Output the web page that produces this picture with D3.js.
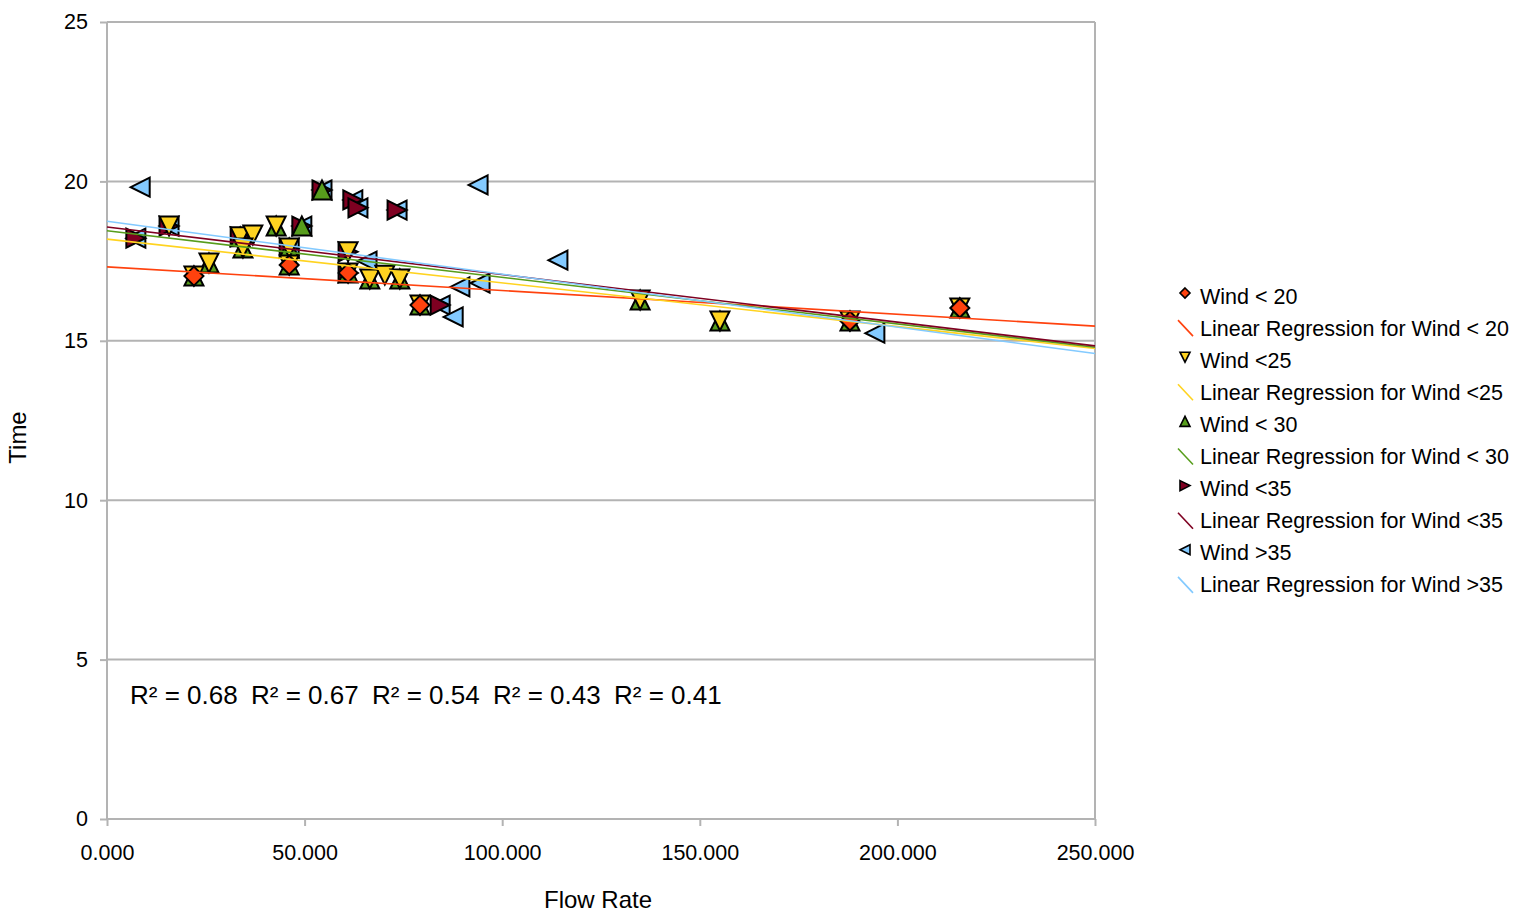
<!DOCTYPE html>
<html>
<head>
<meta charset="utf-8">
<script src="https://cdn.jsdelivr.net/npm/d3@7"></script>
<style>
  body { margin: 0; background: #fff; }
  svg text { font-family: "Liberation Sans", Arial, sans-serif; fill: #000; }
</style>
</head>
<body>
<svg id="chart" width="1519" height="922"></svg>
<script>
/********** Data **********/
var flowTicks = [0, 50, 100, 150, 200, 250];
var timeTicks = [0, 5, 10, 15, 20, 25];

var seriesNames = ["Wind < 20", "Wind <25", "Wind < 30", "Wind <35", "Wind >35"];
var seriesColors = ["#ff420e", "#ffd320", "#579d1c", "#7e0021", "#83caff"];
var seriesShapes = ["diamond", "down", "up", "right", "left"];

// [flow rate, time]
var wind20 = [[22.0,17.03],[46.1,17.38],[61.0,17.13],[79.2,16.12],[188.0,15.62],[215.8,16.03]];
var wind25 = [[15.7,18.6],[22.0,17.03],[25.8,17.44],[33.7,18.26],[36.9,18.32],[34.4,17.91],[42.8,18.6],
              [46.1,17.91],[46.1,17.38],[61.0,17.79],[61.0,17.13],[66.5,16.94],[70.3,17.06],[74.1,16.94],
              [79.2,16.12],[134.9,16.28],[155.1,15.62],[188.0,15.62],[215.8,16.03]];
var wind30 = [[22.0,17.03],[25.8,17.44],[33.7,18.26],[34.4,17.91],[42.8,18.6],[46.1,17.91],[46.1,17.38],
              [49.3,18.6],[54.4,19.73],[61.0,17.13],[66.5,16.94],[74.1,16.94],[79.2,16.12],[134.9,16.28],
              [155.1,15.62],[188.0,15.62],[215.8,16.03]];
var wind35 = [[7.3,18.22],[15.7,18.6],[33.7,18.26],[46.1,17.91],[49.3,18.6],[54.4,19.73],[61.0,17.79],
              [61.0,17.13],[62.2,19.42],[63.5,19.17],[73.4,19.1],[84.3,16.12]];
var windOver35 = [[8.4,19.82],[7.3,18.22],[15.7,18.6],[46.1,17.91],[49.3,18.6],[54.4,19.73],[62.2,19.42],
              [63.5,19.17],[65.8,17.5],[73.4,19.1],[84.3,16.12],[87.6,15.75],[89.3,16.69],[93.9,19.89],
              [94.4,16.81],[114.1,17.53],[194.3,15.24]];
var seriesData = [wind20, wind25, wind30, wind35, windOver35];

// regression line: time at flow 0 and at flow 250
var regStart = [17.32, 18.19, 18.45, 18.57, 18.75];
var regEnd = [15.46, 14.76, 14.80, 14.84, 14.60];

var r2Labels = ["R² = 0.68", "R² = 0.67", "R² = 0.54", "R² = 0.43", "R² = 0.41"];

/********** Chart **********/
var svg = d3.select("#chart"),
    margin = {top: 22, left: 107, right: 424, bottom: 103},
    width = +svg.attr("width") - margin.left - margin.right,
    height = +svg.attr("height") - margin.top - margin.bottom;

var x = d3.scaleLinear().domain([0, 250]).range([0, width]);
var y = d3.scaleLinear().domain([0, 25]).range([height, 0]);

var g = svg.append("g").attr("transform", "translate(" + margin.left + "," + margin.top + ")");
var grey = "#b3b3b3";

// grid
g.selectAll(".grid").data(timeTicks).enter().append("line")
    .attr("x1", 0).attr("x2", width)
    .attr("y1", function(d) { return y(d); }).attr("y2", function(d) { return y(d); })
    .attr("stroke", grey).attr("stroke-width", 2);

g.append("line").attr("x1", 0).attr("x2", 0).attr("y1", 0).attr("y2", height)
    .attr("stroke", grey).attr("stroke-width", 2);
g.append("line").attr("x1", width).attr("x2", width).attr("y1", 0).attr("y2", height)
    .attr("stroke", grey).attr("stroke-width", 2);

// axes
var yAxis = g.append("g").call(d3.axisLeft(y).tickValues(timeTicks).tickSize(7).tickPadding(12));
var xAxis = g.append("g").attr("transform", "translate(0," + height + ")")
    .call(d3.axisBottom(x).tickValues(flowTicks).tickSize(7).tickPadding(19).tickFormat(d3.format(".3f")));
[yAxis, xAxis].forEach(function(a) {
    a.select(".domain").remove();
    a.selectAll(".tick line").attr("stroke", grey).attr("stroke-width", 2);
    a.selectAll("text").style("font-size", "21.5px").attr("fill", "#000");
});

svg.append("text").attr("x", 598).attr("y", 908)
    .attr("text-anchor", "middle").style("font-size", "24px").text("Flow Rate");
svg.append("text").attr("transform", "translate(26," + (margin.top + height / 2 + 17) + ") rotate(-90)")
    .attr("text-anchor", "middle").style("font-size", "24px").text("Time");

// marker shapes inside an s x s box
function markerPath(shape, s) {
    var h = s / 2;
    if (shape == "diamond") return "M0," + -h + "L" + h + ",0L0," + h + "L" + -h + ",0Z";
    if (shape == "down") return "M" + -h + "," + -h + "L" + h + "," + -h + "L0," + h + "Z";
    if (shape == "up") return "M" + -h + "," + h + "L" + h + "," + h + "L0," + -h + "Z";
    if (shape == "right") return "M" + -h + "," + -h + "L" + h + ",0L" + -h + "," + h + "Z";
    return "M" + h + "," + -h + "L" + -h + ",0L" + h + "," + h + "Z";
}

// markers, last series at the bottom
for (var i = seriesData.length - 1; i >= 0; i--) {
    g.append("g").selectAll("path").data(seriesData[i]).enter().append("path")
        .attr("d", markerPath(seriesShapes[i], 19))
        .attr("transform", function(d) { return "translate(" + x(d[0]) + "," + y(d[1]) + ")"; })
        .attr("fill", seriesColors[i])
        .attr("stroke", "#000").attr("stroke-width", 2).attr("stroke-linejoin", "miter");
}

// regression lines
seriesNames.forEach(function(name, i) {
    g.append("line")
        .attr("x1", x(0)).attr("y1", y(regStart[i]))
        .attr("x2", x(250)).attr("y2", y(regEnd[i]))
        .attr("stroke", seriesColors[i]).attr("stroke-width", 1.6);
});

// R² labels
g.selectAll(".r2").data(r2Labels).enter().append("text")
    .attr("x", function(d, i) { return 23 + i * 121; })
    .attr("y", y(3.6))
    .style("font-size", "26px")
    .text(function(d) { return d; });

/********** Legend **********/
var legend = svg.append("g").attr("transform", "translate(1185,296)");
seriesNames.forEach(function(name, i) {
    var row = legend.append("g").attr("transform", "translate(0," + (i * 2 * 32.1) + ")");
    row.append("path").attr("d", markerPath(seriesShapes[i], 10))
        .attr("transform", "translate(0,-3)")
        .attr("fill", seriesColors[i]).attr("stroke", "#000").attr("stroke-width", 1.6);
    row.append("text").attr("x", 15).attr("y", 7.5).style("font-size", "21.5px").text(name);

    var row2 = legend.append("g").attr("transform", "translate(0," + ((i * 2 + 1) * 32.1) + ")");
    row2.append("line").attr("x1", -7).attr("y1", -8).attr("x2", 8).attr("y2", 8)
        .attr("stroke", seriesColors[i]).attr("stroke-width", 1.6);
    row2.append("text").attr("x", 15).attr("y", 7.5).style("font-size", "21.5px")
        .text("Linear Regression for " + name);
});
</script>
</body>
</html>
